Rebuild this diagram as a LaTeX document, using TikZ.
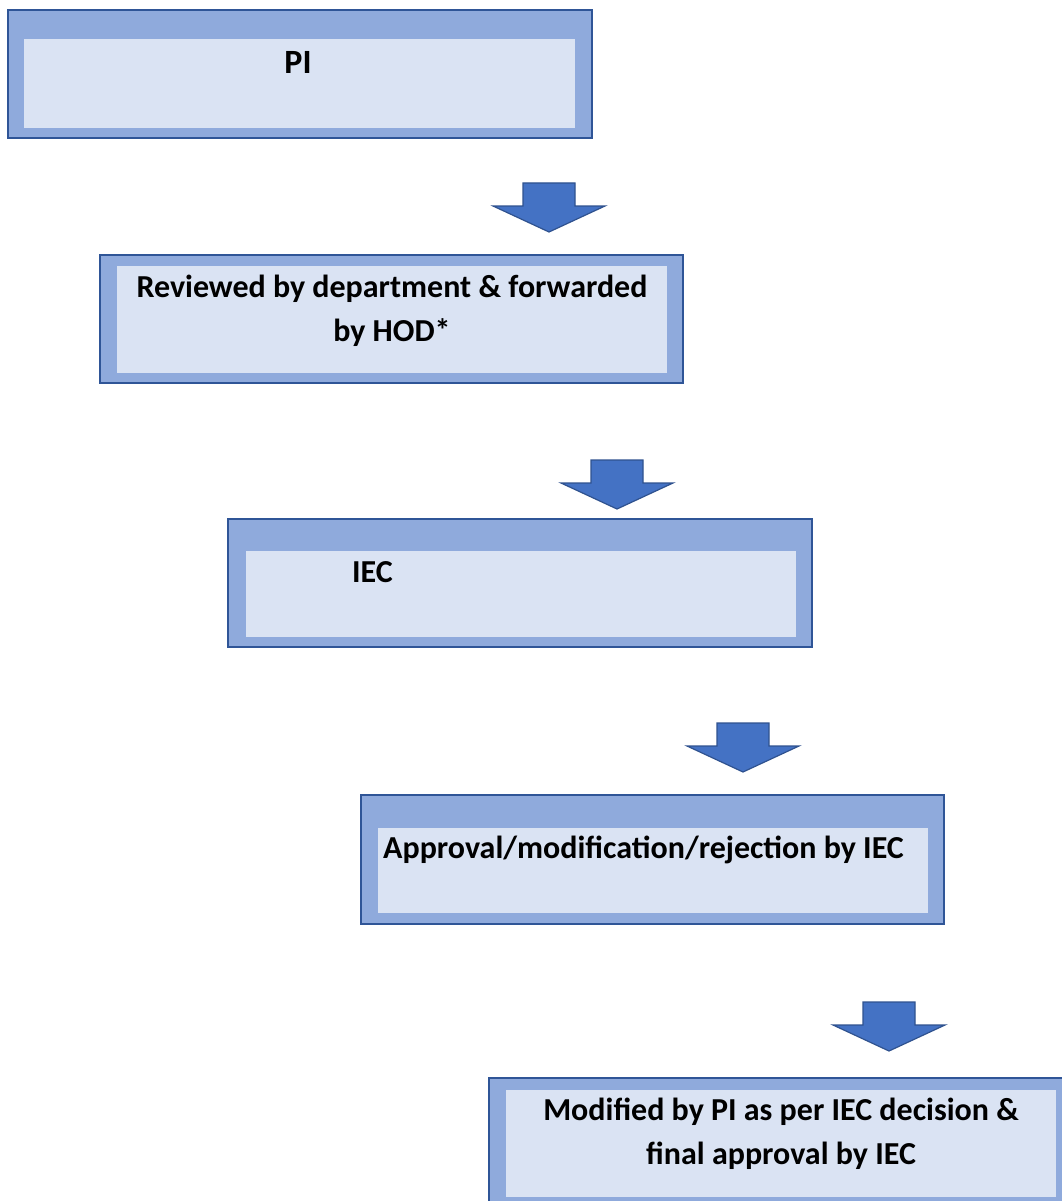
\documentclass[tikz,border=0pt]{standalone}
\usepackage{fontspec}
\setmainfont{Carlito}
\definecolor{boxedge}{HTML}{2F5597}
\definecolor{boxfill}{HTML}{8FAADC}
\definecolor{innerfill}{HTML}{DAE3F3}
\definecolor{arrowfill}{HTML}{4472C4}
\definecolor{arrowedge}{HTML}{2F528F}
% downward block arrow: centre x, top y
\newcommand\blockdown[2]{%
  \draw[blockarrow] (#1-26,#2) -- (#1+26,#2) -- (#1+26,#2+23) -- (#1+56,#2+23)
    -- (#1,#2+49) -- (#1-56,#2+23) -- (#1-26,#2+23) -- cycle;}
\begin{document}
\begin{tikzpicture}[x=1pt,y=-1pt,
  outerbox/.style={draw=boxedge, fill=boxfill, line width=1.6pt, inner sep=0pt, outer sep=0pt, anchor=north west},
  innerbox/.style={fill=innerfill, draw=none, inner sep=0pt, outer sep=0pt, anchor=north west},
  steptext/.style={font=\bfseries\fontsize{32}{44}\selectfont, align=center, inner sep=0pt},
  blockarrow/.style={fill=arrowfill, draw=arrowedge, line width=1.2pt, line join=miter}]

\path[use as bounding box] (0,0) rectangle (1061,1201);

% step 1
\node[outerbox, minimum width=584pt, minimum height=128pt] (pi) at (8,10) {};
\node[innerbox, minimum width=551pt, minimum height=89pt] (piin) at (24,39) {};
\node[steptext, anchor=base, font=\bfseries\fontsize{34}{44}\selectfont] (pitext) at (298,74) {PI};

\blockdown{549}{183}

% step 2 (base anchor sits on the last line)
\node[outerbox, minimum width=583pt, minimum height=128pt] (hod) at (100,255) {};
\node[innerbox, minimum width=550pt, minimum height=107pt] (hodin) at (117,266) {};
\node[steptext, anchor=base] (hodtext) at (392,341) {Reviewed by department \& forwarded\\by HOD*};

\blockdown{617}{460}

% step 3
\node[outerbox, minimum width=584pt, minimum height=128pt] (iec) at (228,519) {};
\node[innerbox, minimum width=550pt, minimum height=86pt] (iecin) at (246,551) {};
\node[steptext, anchor=base west] (iectext) at (352,582) {IEC};

\blockdown{743}{723}

% step 4
\node[outerbox, minimum width=583pt, minimum height=129pt] (dec) at (361,795) {};
\node[innerbox, minimum width=550pt, minimum height=85pt] (decin) at (378,828) {};
\node[steptext, anchor=base west] (dectext) at (383,858) {Approval/modification/rejection by IEC};

\blockdown{889}{1002}

% step 5
\node[outerbox, minimum width=590pt, minimum height=140pt] (fin) at (489,1078) {};
\node[innerbox, minimum width=550pt, minimum height=107pt] (finin) at (506,1090) {};
\node[steptext, anchor=base] (fintext) at (781,1164) {Modified by PI as per IEC decision \&\\final approval by IEC};
\end{tikzpicture}
\end{document}
